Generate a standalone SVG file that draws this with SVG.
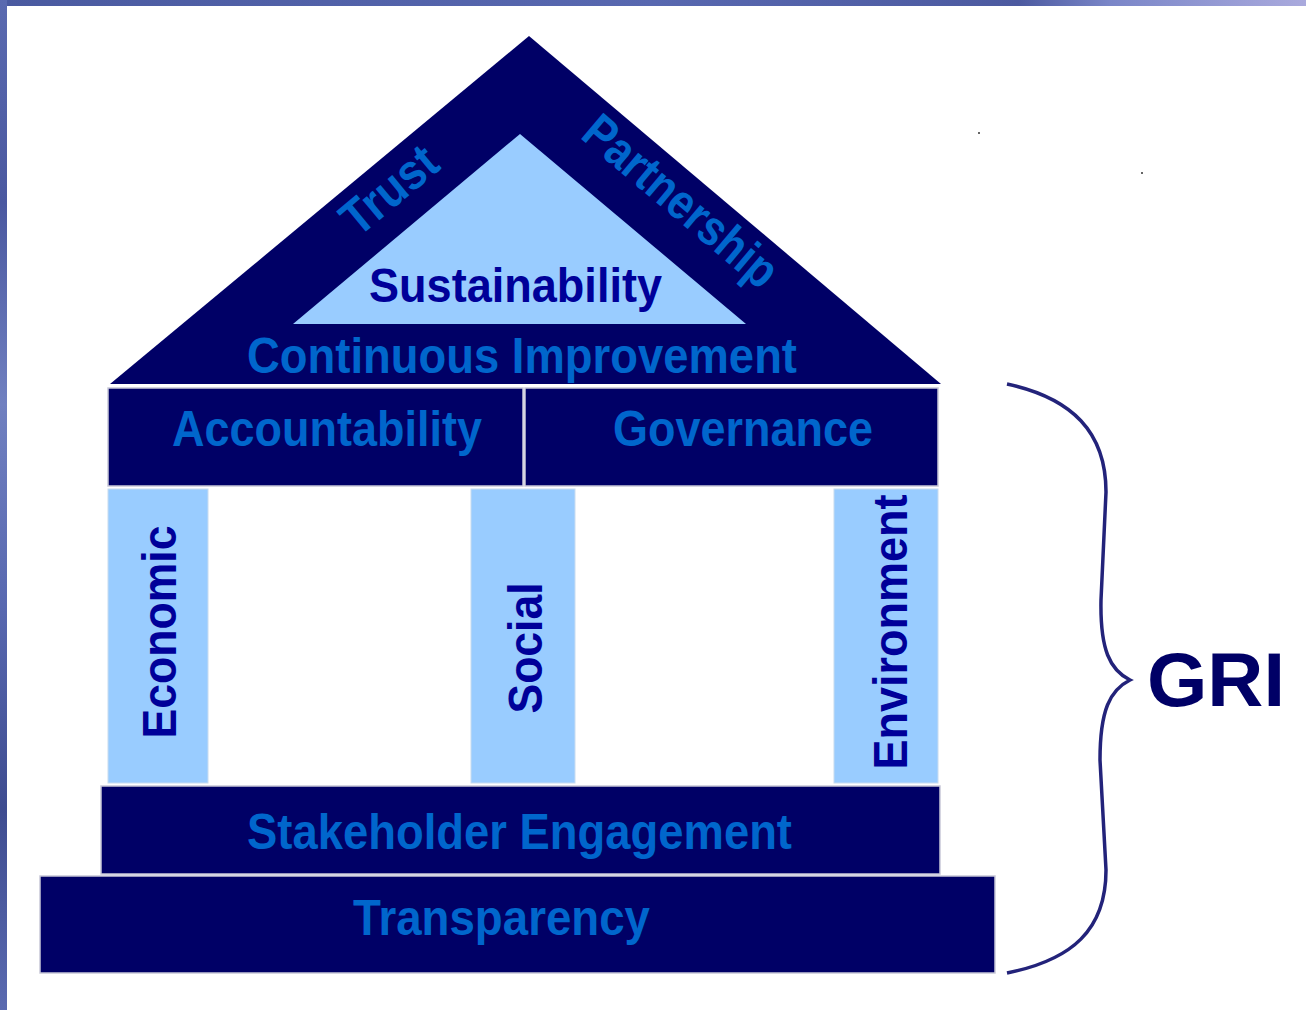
<svg xmlns="http://www.w3.org/2000/svg" width="1306" height="1010" viewBox="0 0 1306 1010">
<defs>
<linearGradient id="topg" x1="0" y1="0" x2="1" y2="0">
<stop offset="0" stop-color="#4a5aa0"/>
<stop offset="0.5" stop-color="#5868b0"/>
<stop offset="0.78" stop-color="#4c5aa0"/>
<stop offset="0.85" stop-color="#7a86c8"/>
<stop offset="1" stop-color="#aaaadd"/>
</linearGradient>
<linearGradient id="leftg" x1="0" y1="0" x2="0" y2="1">
<stop offset="0" stop-color="#5a6ab0"/>
<stop offset="0.2" stop-color="#4a58a0"/>
<stop offset="0.4" stop-color="#7080c0"/>
<stop offset="0.6" stop-color="#5868b0"/>
<stop offset="0.8" stop-color="#3e4c90"/>
<stop offset="1" stop-color="#5a6ab0"/>
</linearGradient>
<style>
.dark{fill:#000066}
.box{fill:#000066;stroke:#c8c8d8;stroke-width:1.5}
.pillar{fill:#99ccff;stroke:#c8dcf0;stroke-width:1}
.lt{font-family:"Liberation Sans",Arial,sans-serif;font-weight:bold;font-size:50px;fill:#0066cc;text-anchor:middle}
.dk{font-family:"Liberation Sans",Arial,sans-serif;font-weight:bold;font-size:49px;fill:#000099;text-anchor:middle}
</style>
</defs>
<rect x="0" y="0" width="1306" height="1010" fill="#ffffff"/>
<rect x="0" y="0" width="1306" height="6" fill="url(#topg)"/>
<rect x="0" y="0" width="7" height="1010" fill="url(#leftg)"/>

<g id="roof">
<polygon class="dark" points="529,36 110,384 941,384"/>
<polygon fill="#99ccff" points="520,134 293,324 746,324"/>
<text class="dk" x="515.5" y="302" textLength="293" lengthAdjust="spacingAndGlyphs">Sustainability</text>
<text class="lt" x="522" y="373" textLength="550" lengthAdjust="spacingAndGlyphs">Continuous Improvement</text>
<text class="lt" font-size="48" transform="translate(400,203) rotate(-39.7)" textLength="110" lengthAdjust="spacingAndGlyphs">Trust</text>
<text class="lt" font-size="48" transform="translate(670,214) rotate(40.2)" textLength="238" lengthAdjust="spacingAndGlyphs">Partnership</text>
</g>

<g id="accountability">
<rect class="box" x="108" y="388" width="415" height="98"/>
<text class="lt" x="327" y="446" textLength="310" lengthAdjust="spacingAndGlyphs">Accountability</text>
</g>
<g id="governance">
<rect class="box" x="525" y="388" width="413" height="98"/>
<text class="lt" x="743" y="446" textLength="260" lengthAdjust="spacingAndGlyphs">Governance</text>
</g>

<g id="economic">
<rect class="pillar" x="108" y="489" width="100" height="294"/>
<text class="dk" transform="translate(176,632) rotate(-90)" textLength="213" lengthAdjust="spacingAndGlyphs">Economic</text>
</g>
<g id="social">
<rect class="pillar" x="471" y="489" width="104" height="294"/>
<text class="dk" transform="translate(542,648) rotate(-90)" textLength="131" lengthAdjust="spacingAndGlyphs">Social</text>
</g>
<g id="environment">
<rect class="pillar" x="834" y="489" width="104" height="294"/>
<text class="dk" transform="translate(907,632) rotate(-90)" textLength="275" lengthAdjust="spacingAndGlyphs">Environment</text>
</g>

<g id="stakeholder">
<rect class="box" x="101" y="786" width="839" height="88"/>
<text class="lt" x="519.5" y="849" textLength="545" lengthAdjust="spacingAndGlyphs">Stakeholder Engagement</text>
</g>
<g id="transparency">
<rect class="box" x="40" y="876" width="955" height="97"/>
<text class="lt" x="501.5" y="935" textLength="297" lengthAdjust="spacingAndGlyphs">Transparency</text>
</g>

<g id="connectors">
<path d="M1007,384 C1072,398 1106,432 1106,492 L1101,600 C1100,650 1110,670 1130,680 C1110,690 1100,710 1100,760 L1106,870 C1106,930 1072,960 1007,973" fill="none" stroke="#23237a" stroke-width="3.5"/>
</g>
<g id="gri">
<text x="1147" y="706" font-family="'Liberation Sans',Arial,sans-serif" font-weight="bold" font-size="76" fill="#000066" textLength="138" lengthAdjust="spacingAndGlyphs">GRI</text>
</g>
<circle cx="979" cy="133" r="1" fill="#333"/>
<circle cx="1142" cy="173" r="1" fill="#333"/>
</svg>
